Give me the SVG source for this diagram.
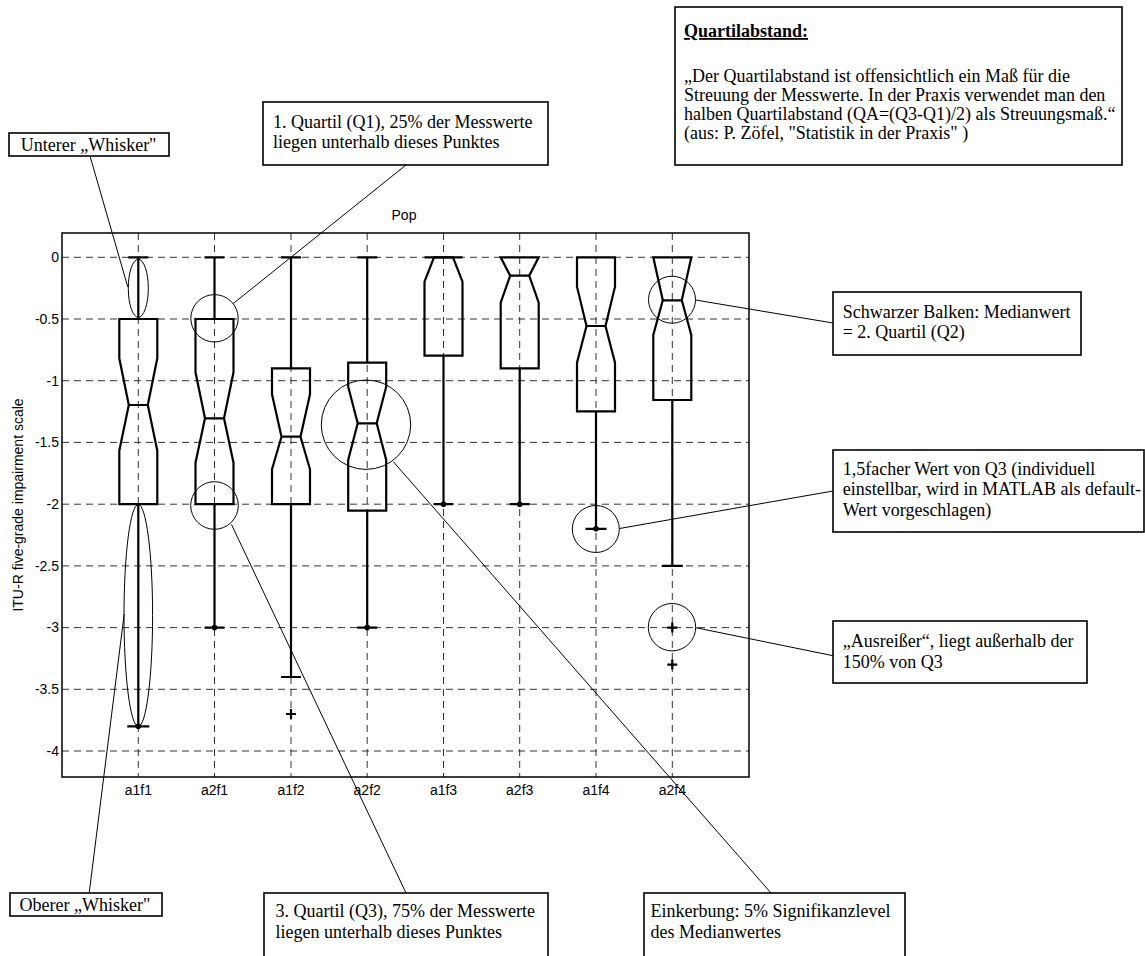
<svg xmlns="http://www.w3.org/2000/svg" width="1145" height="956" viewBox="0 0 1145 956">
<style>
.bg{fill:#fff}
.axis{fill:none;stroke:#000;stroke-width:1.5}
.grid{stroke:#333;stroke-width:1;stroke-dasharray:7,5;fill:none}
.box{fill:none;stroke:#000;stroke-width:2.2;stroke-linejoin:miter}
.wh{stroke:#000;stroke-width:2.2;fill:none}
.dot{fill:#000}
.ann{fill:none;stroke:#000;stroke-width:1}
.conn{stroke:#000;stroke-width:1;fill:none}
.tb{fill:#fff;stroke:#000;stroke-width:1.6}
.ax{font-family:"Liberation Sans",Arial,sans-serif;font-size:14px;fill:#000}
.t{font-family:"Liberation Serif","Times New Roman",serif;font-size:18px;fill:#000}
.tt{font-family:"Liberation Serif","Times New Roman",serif;font-size:18px;font-weight:bold;text-decoration:underline;fill:#000}
</style>
<rect class="bg" x="0" y="0" width="1145" height="956"/>

<g id="plot">
  <g id="grid">
    <path class="grid" d="M62 257.3H749M62 319H749M62 380.7H749M62 442.4H749M62 504.2H749M62 565.9H749M62 627.6H749M62 689.3H749M62 751H749"/>
    <path class="grid" d="M138.3 233V777M214.5 233V777M291 233V777M367.2 233V777M443.5 233V777M519.7 233V777M596 233V777M672.3 233V777"/>
  </g>
  <rect class="axis" x="62" y="233" width="687" height="544"/>
  <g id="yticks" class="ax" text-anchor="end">
    <text x="59" y="262">0</text>
    <text x="59" y="324">-0.5</text>
    <text x="59" y="386">-1</text>
    <text x="59" y="447">-1.5</text>
    <text x="59" y="509">-2</text>
    <text x="59" y="571">-2.5</text>
    <text x="59" y="632">-3</text>
    <text x="59" y="694">-3.5</text>
    <text x="59" y="756">-4</text>
  </g>
  <g id="xticks" class="ax" text-anchor="middle">
    <text x="138.3" y="795">a1f1</text>
    <text x="214.5" y="795">a2f1</text>
    <text x="291" y="795">a1f2</text>
    <text x="367.2" y="795">a2f2</text>
    <text x="443.5" y="795">a1f3</text>
    <text x="519.7" y="795">a2f3</text>
    <text x="596" y="795">a1f4</text>
    <text x="672.3" y="795">a2f4</text>
  </g>
  <text class="ax" x="404" y="220" text-anchor="middle">Pop</text>
  <text class="ax" x="0" y="0" text-anchor="middle" transform="translate(23 505) rotate(-90)">ITU-R five-grade impairment scale</text>
</g>

<g id="box-a1f1">
  <polygon class="box" points="119.3,319 157.3,319 157.3,358.3 147.8,405 157.3,450.7 157.3,504.2 119.3,504.2 119.3,450.7 128.8,405 119.3,358.3"/>
  <path class="wh" d="M128.8 405H147.8M138.3 257.3V319M138.3 504.2V726.3M128.3 257.3H148.3M127.3 726.3H149.3"/>
  <circle class="dot" cx="138.3" cy="726.3" r="2.8"/>
</g>
<g id="box-a2f1">
  <polygon class="box" points="195.5,319 233.5,319 233.5,372.3 224,418.3 233.5,462.7 233.5,504.2 195.5,504.2 195.5,462.7 205,418.3 195.5,372.3"/>
  <path class="wh" d="M205 418.3H224M214.5 257.3V319M214.5 504.2V627.6M204.5 257.3H224.5M204.5 627.6H224.5"/>
  <circle class="dot" cx="214.5" cy="627.6" r="2.8"/>
</g>
<g id="box-a1f2">
  <polygon class="box" points="272,368.3 310,368.3 310,394.3 300.5,436.7 310,469.3 310,504.2 272,504.2 272,469.3 281.5,436.7 272,394.3"/>
  <path class="wh" d="M281.5 436.7H300.5M291 257.3V368.3M291 504.2V677M281 257.3H301M281 677H301M286 714H296M291 709V719"/>
</g>
<g id="box-a2f2">
  <polygon class="box" points="348.2,362.7 386.2,362.7 386.2,386.7 376.7,423.3 386.2,460 386.2,510.7 348.2,510.7 348.2,460 357.7,423.3 348.2,386.7"/>
  <path class="wh" d="M357.7 423.3H376.7M367.2 257.3V362.7M367.2 510.7V627.6M357.2 257.3H377.2M357.2 627.6H377.2"/>
  <circle class="dot" cx="367.2" cy="627.6" r="2.8"/>
</g>
<g id="box-a1f3">
  <polygon class="box" points="434,257.3 424.5,281.7 424.5,355.7 462.5,355.7 462.5,281.7 453,257.3"/>
  <path class="wh" d="M424.5 257.3H462.5M443.5 355.7V504.2M433.5 504.2H453.5"/>
  <circle class="dot" cx="443.5" cy="504.2" r="2.8"/>
</g>
<g id="box-a2f3">
  <polygon class="box" points="500.7,257.3 538.7,257.3 529.2,275.7 538.7,302.7 538.7,368.3 500.7,368.3 500.7,302.7 510.2,275.7"/>
  <path class="wh" d="M510.2 275.7H529.2M519.7 368.3V504.2M509.7 504.2H529.7"/>
  <circle class="dot" cx="519.7" cy="504.2" r="2.8"/>
</g>
<g id="box-a1f4">
  <polygon class="box" points="577,257.3 615,257.3 615,286.7 605.5,326 615,362.7 615,411.3 577,411.3 577,362.7 586.5,326 577,286.7"/>
  <path class="wh" d="M586.5 326H605.5M596 411.3V528.8M585.5 528.8H606.5"/>
  <circle class="dot" cx="596" cy="528.8" r="2.8"/>
</g>
<g id="box-a2f4">
  <polygon class="box" points="653.3,257.3 691.3,257.3 681.8,300.3 691.3,335 691.3,400 653.3,400 653.3,335 662.8,300.3"/>
  <path class="wh" d="M662.8 300.3H681.8M672.3 400V565.9M661.8 565.9H682.8M667.3 627.6H677.3M672.3 622.6V632.6M667.3 664.6H677.3M672.3 659.6V669.6"/>
</g>

<g id="highlights">
  <ellipse class="ann" cx="138.3" cy="288.3" rx="10" ry="29"/>
  <ellipse class="ann" cx="138.3" cy="615.5" rx="14.3" ry="111"/>
  <circle class="ann" cx="214.5" cy="318.3" r="23.7"/>
  <circle class="ann" cx="214.5" cy="505.5" r="23.8"/>
  <circle class="ann" cx="366" cy="424.7" r="44.7"/>
  <circle class="ann" cx="672" cy="299.7" r="23.5"/>
  <circle class="ann" cx="595.8" cy="529" r="23.5"/>
  <circle class="ann" cx="672" cy="627.2" r="23.7"/>
</g>

<g id="connectors">
  <line class="conn" x1="90" y1="156" x2="127.8" y2="287"/>
  <line class="conn" x1="406" y1="165" x2="233.3" y2="303.5"/>
  <line class="conn" x1="124.2" y1="614" x2="89.2" y2="893"/>
  <line class="conn" x1="231.5" y1="524.5" x2="406" y2="893"/>
  <line class="conn" x1="393.3" y1="461.7" x2="771" y2="893"/>
  <line class="conn" x1="695.5" y1="300" x2="833" y2="323"/>
  <line class="conn" x1="619.5" y1="528.5" x2="833" y2="491"/>
  <line class="conn" x1="695.7" y1="627.7" x2="833" y2="655.7"/>
</g>

<g id="note-quartilabstand">
  <rect class="tb" x="675" y="7" width="447" height="158"/>
  <text class="tt" x="684" y="37">Quartilabstand:</text>
  <text class="t" x="684" y="81.5">„Der Quartilabstand ist offensichtlich ein Maß für die</text>
  <text class="t" x="684" y="100.8">Streuung der Messwerte. In der Praxis verwendet man den</text>
  <text class="t" x="684" y="120">halben Quartilabstand (QA=(Q3-Q1)/2) als Streuungsmaß.“</text>
  <text class="t" x="684" y="139.3">(aus: P. Zöfel, "Statistik in der Praxis" )</text>
</g>
<g id="note-unterer">
  <rect class="tb" x="9" y="133" width="160" height="23"/>
  <text class="t" x="20.7" y="151">Unterer „Whisker"</text>
</g>
<g id="note-q1">
  <rect class="tb" x="263" y="102" width="285" height="63"/>
  <text class="t" x="273" y="128">1. Quartil (Q1), 25% der Messwerte</text>
  <text class="t" x="273" y="148">liegen unterhalb dieses Punktes</text>
</g>
<g id="note-median">
  <rect class="tb" x="833" y="292" width="248" height="63"/>
  <text class="t" x="842.7" y="318">Schwarzer Balken: Medianwert</text>
  <text class="t" x="842.7" y="338">= 2. Quartil (Q2)</text>
</g>
<g id="note-15fach">
  <rect class="tb" x="833" y="450" width="311" height="82"/>
  <text class="t" x="842.7" y="474.5">1,5facher Wert von Q3 (individuell</text>
  <text class="t" x="842.7" y="495">einstellbar, wird in MATLAB als default-</text>
  <text class="t" x="842.7" y="516">Wert vorgeschlagen)</text>
</g>
<g id="note-ausreisser">
  <rect class="tb" x="833" y="621" width="254" height="62"/>
  <text class="t" x="842.7" y="647">„Ausreißer“, liegt außerhalb der</text>
  <text class="t" x="842.7" y="668">150% von Q3</text>
</g>
<g id="note-oberer">
  <rect class="tb" x="10" y="893" width="152" height="23"/>
  <text class="t" x="19.5" y="911">Oberer „Whisker"</text>
</g>
<g id="note-q3">
  <rect class="tb" x="264" y="893" width="284" height="64"/>
  <text class="t" x="275.5" y="917">3. Quartil (Q3), 75% der Messwerte</text>
  <text class="t" x="275.5" y="938">liegen unterhalb dieses Punktes</text>
</g>
<g id="note-einkerbung">
  <rect class="tb" x="644" y="893" width="261" height="64"/>
  <text class="t" x="650.5" y="917">Einkerbung: 5% Signifikanzlevel</text>
  <text class="t" x="650.5" y="938">des Medianwertes</text>
</g>
</svg>
